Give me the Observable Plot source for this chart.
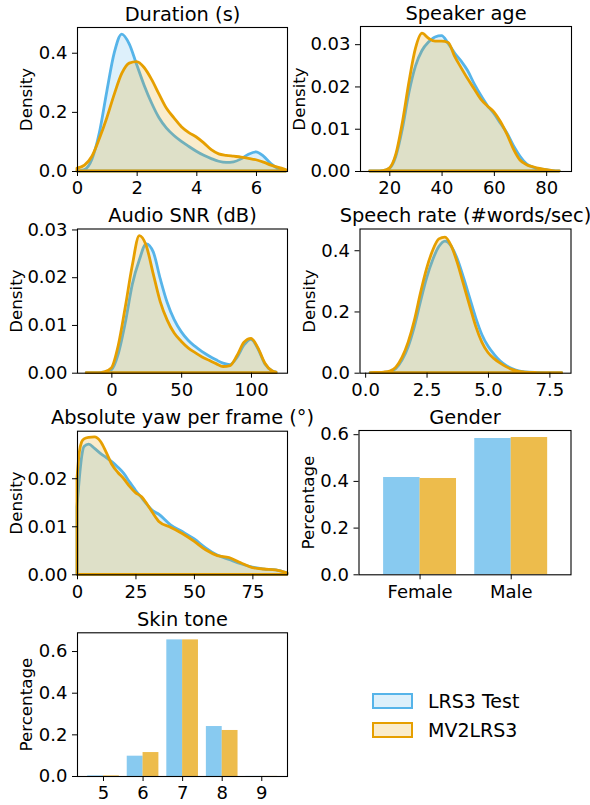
<!DOCTYPE html>
<html><head><meta charset="utf-8">
<script src="https://cdn.jsdelivr.net/npm/d3@7"></script>
<script src="https://cdn.jsdelivr.net/npm/@observablehq/plot@0.6"></script>
<style>
body{margin:0;background:#fff;overflow:hidden;}
#fig{position:relative;width:590px;height:805px;font-family:"DejaVu Sans",sans-serif;}
#fig svg{position:absolute;left:0;top:0;}
.leg{position:absolute;display:flex;align-items:center;font-size:19px;color:#000;}
.sw{box-sizing:border-box;width:41px;height:16px;margin-right:15px;}
</style>
</head><body><div id="fig"></div>
<script>
// ---- data ----
const seriesNames = ["LRS3 Test", "MV2LRS3"];

const durationX = [0,0.25,0.5,0.75,1.0,1.25,1.5,1.75,2.0,2.25,2.5,2.75,3.0,3.25,3.5,3.75,4.0,4.25,4.5,4.75,5.0,5.25,5.5,5.75,6.0,6.25,6.5,6.75,7.0];
const durationLRS3 = [0.0,0.005,0.04,0.13,0.27,0.40,0.463,0.43,0.36,0.29,0.23,0.18,0.145,0.12,0.10,0.083,0.067,0.053,0.042,0.033,0.029,0.031,0.041,0.057,0.065,0.05,0.025,0.008,0.002];
const durationMV2 = [0.01,0.02,0.05,0.11,0.18,0.26,0.33,0.365,0.37,0.35,0.31,0.26,0.212,0.18,0.15,0.13,0.115,0.095,0.072,0.058,0.053,0.05,0.047,0.043,0.038,0.03,0.02,0.012,0.005];

const ageX = [12.5,15,17.5,20,22.5,25,27.5,30,32.5,35,37.5,40,42.5,45,47.5,50,52.5,55,57.5,60,62.5,65,67.5,70,72.5,75,77.5,80,82.5,85];
const ageLRS3 = [0,0,0.0001,0.0006,0.0035,0.010,0.0185,0.0248,0.0285,0.0305,0.0317,0.032,0.0302,0.0279,0.026,0.0237,0.0206,0.0179,0.0155,0.0136,0.0113,0.009,0.006,0.0035,0.0017,0.0009,0.0005,0.0003,0.0001,0];
const ageMV2 = [0,0,0.0001,0.0007,0.004,0.0115,0.021,0.029,0.0326,0.0314,0.0307,0.0307,0.0304,0.0271,0.0244,0.0218,0.0194,0.017,0.0154,0.014,0.0117,0.0087,0.0052,0.0026,0.0015,0.001,0.0006,0.0003,0.0001,0];

const snrX = [-18,-10,-5,0,5,10,15,20,25,30,35,40,45,50,55,60,65,70,75,80,85,90,95,100,105,110,115,118];
const snrLRS3 = [0,0,0.0001,0.0006,0.004,0.0105,0.0185,0.0236,0.027,0.0253,0.0197,0.0147,0.0111,0.0086,0.0068,0.0055,0.0044,0.0035,0.0027,0.002,0.0017,0.0032,0.0058,0.007,0.005,0.0018,0.0004,0.0001];
const snrMV2 = [0,0,0.0002,0.001,0.0058,0.0138,0.0225,0.0287,0.0266,0.0207,0.0149,0.011,0.0083,0.0066,0.0052,0.0042,0.0033,0.0026,0.0019,0.0013,0.0015,0.0036,0.0064,0.0072,0.0052,0.002,0.0004,0.0001];

const rateX = [0.2,0.5,0.75,1.0,1.25,1.5,1.75,2.0,2.25,2.5,2.75,3.0,3.25,3.5,3.75,4.0,4.25,4.5,4.75,5.0,5.25,5.5,5.75,6.0,6.25,6.5,7.0,7.5,8.0];
const rateLRS3 = [0,0.0005,0.001,0.003,0.014,0.041,0.085,0.15,0.232,0.309,0.369,0.412,0.43,0.414,0.372,0.312,0.246,0.18,0.125,0.087,0.06,0.038,0.023,0.013,0.006,0.003,0.001,0.0003,0];
const rateMV2 = [0,0.001,0.002,0.005,0.018,0.05,0.1,0.17,0.26,0.34,0.40,0.437,0.443,0.415,0.36,0.29,0.22,0.152,0.10,0.066,0.046,0.031,0.019,0.01,0.004,0.002,0.0005,0,0];

const yawX = [0,1,2,3,5,7.5,10,12.5,15,17.5,20,22.5,25,27.5,30,32.5,35,40,45,50,55,60,65,70,75,80,85,89.8];
const yawLRS3 = [0.014,0.02,0.0245,0.0266,0.0271,0.0262,0.0252,0.0243,0.0234,0.0223,0.021,0.0192,0.0175,0.016,0.0145,0.0132,0.0125,0.0103,0.0089,0.0074,0.0055,0.004,0.0031,0.0022,0.0015,0.0011,0.0009,0.0003];
const yawMV2 = [0.02,0.0255,0.0276,0.0282,0.0285,0.0286,0.0277,0.0254,0.0228,0.0212,0.0199,0.0183,0.017,0.0162,0.0146,0.0127,0.011,0.0098,0.0085,0.0069,0.0051,0.0039,0.0035,0.0024,0.0014,0.0011,0.0009,0.0003];

const genderCats = ["Female", "Male"];
const genderLRS3 = [0.4167, 0.5837];
const genderMV2 = [0.4124, 0.588];

const skinCats = [5, 6, 7, 8, 9];
const skinLRS3 = [0.003, 0.0975, 0.656, 0.24, 0.0005];
const skinMV2 = [0.003, 0.115, 0.656, 0.221, 0.0005];

// ---- styling ----
const BLUE = "#56B4E9", ORANGE = "#E69F00";
const W = 590, H = 805;
const fig = document.getElementById("fig");
const baseStyle = {fontFamily: "DejaVu Sans", fontSize: "18px", color: "#000", background: "none", overflow: "visible"};

function common(box, title, ylabel, labelOff, xOpts, yOpts) {
  return {
    width: W, height: H,
    marginLeft: box.l, marginRight: W - box.r, marginTop: box.t, marginBottom: H - box.b,
    style: baseStyle,
    x: xOpts, y: yOpts,
    extra: [
      Plot.frame({stroke: "#000", strokeWidth: 1.1}),
      Plot.axisX({ticks: xOpts.ticks, tickFormat: xOpts.tickFormat, tickSize: 5, tickPadding: 5, label: null, fontSize: 18}),
      Plot.axisY({ticks: yOpts.ticks, tickFormat: yOpts.tickFormat, tickSize: 5, tickPadding: 5, label: null, fontSize: 18}),
      Plot.text([title], {frameAnchor: "top", lineAnchor: "bottom", dy: -7, fontSize: 19.4, fill: "#000"}),
      Plot.text([ylabel], {frameAnchor: "left", rotate: -90, dx: -labelOff, fontSize: 16.7, fill: "#000", textAnchor: "middle", lineAnchor: "middle"})
    ]
  };
}

function kdePanel(box, title, labelOff, xs, a, b, xOpts, yOpts) {
  const rows = xs.map((x, i) => ({x, a: a[i], b: b[i]}));
  const c = common(box, title, "Density", labelOff, xOpts, yOpts);
  const marks = [
    Plot.areaY(rows, {x: "x", y: "a", curve: "monotone-x", fill: BLUE, fillOpacity: 0.2, stroke: BLUE, strokeWidth: 2.8, strokeLinejoin: "round"}),
    Plot.areaY(rows, {x: "x", y: "b", curve: "monotone-x", fill: ORANGE, fillOpacity: 0.2, stroke: ORANGE, strokeWidth: 2.8, strokeLinejoin: "round"}),
    ...c.extra
  ];
  delete c.extra;
  fig.appendChild(Plot.plot({...c, marks}));
}

function barPanel(box, title, labelOff, pos, a, b, xOpts, yOpts) {
  const rows = pos.map((p, i) => ({p, a: a[i], b: b[i]}));
  const c = common(box, title, "Percentage", labelOff, xOpts, yOpts);
  const bw = 0.4;
  const marks = [
    Plot.rectY(rows, {x1: d => d.p - bw, x2: d => d.p, y: "a", fill: BLUE, fillOpacity: 0.7}),
    Plot.rectY(rows, {x1: d => d.p, x2: d => d.p + bw, y: "b", fill: ORANGE, fillOpacity: 0.7}),
    ...c.extra
  ];
  delete c.extra;
  fig.appendChild(Plot.plot({...c, marks}));
}

const f1 = d3.format(".1f"), f2 = d3.format(".2f");

kdePanel({l: 77, r: 287, t: 27, b: 171}, "Duration (s)", 51, durationX, durationLRS3, durationMV2,
  {domain: [0, 7.04], ticks: [0, 2, 4, 6], tickFormat: d => d},
  {domain: [0, 0.487], ticks: [0, 0.2, 0.4], tickFormat: f1});

kdePanel({l: 360, r: 571, t: 26, b: 171}, "Speaker age", 61, ageX, ageLRS3, ageMV2,
  {domain: [8.8, 89.5], ticks: [20, 40, 60, 80], tickFormat: d => d},
  {domain: [0, 0.0343], ticks: [0, 0.01, 0.02, 0.03], tickFormat: f2});

kdePanel({l: 77, r: 287, t: 228.5, b: 372.7}, "Audio SNR (dB)", 61, snrX, snrLRS3, snrMV2,
  {domain: [-24.6, 125.8], ticks: [0, 50, 100], tickFormat: d => d},
  {domain: [0, 0.0302], ticks: [0, 0.01, 0.02, 0.03], tickFormat: f2});

kdePanel({l: 359.5, r: 570.5, t: 228.5, b: 372.7}, "Speech rate (#words/sec)", 50, rateX, rateLRS3, rateMV2,
  {domain: [-0.23, 8.36], ticks: [0, 2.5, 5, 7.5], tickFormat: f1},
  {domain: [0, 0.471], ticks: [0, 0.2, 0.4], tickFormat: f1});

kdePanel({l: 77, r: 287, t: 430.7, b: 574.3}, "Absolute yaw per frame (°)", 61, yawX, yawLRS3, yawMV2,
  {domain: [0, 89.8], ticks: [0, 25, 50, 75], tickFormat: d => d},
  {domain: [0, 0.0299], ticks: [0, 0.01, 0.02], tickFormat: f2});

barPanel({l: 358.5, r: 570.5, t: 430, b: 574.3}, "Gender", 50, genderCats.map((_, i) => i), genderLRS3, genderMV2,
  {domain: [-0.67, 1.656], ticks: [0, 1], tickFormat: i => genderCats[i]},
  {domain: [0, 0.618], ticks: [0, 0.2, 0.4, 0.6], tickFormat: f1});

barPanel({l: 77, r: 287, t: 632.3, b: 776}, "Skin tone", 51, skinCats, skinLRS3, skinMV2,
  {domain: [4.343, 9.65], ticks: skinCats, tickFormat: d => d},
  {domain: [0, 0.69], ticks: [0, 0.2, 0.4, 0.6], tickFormat: f1});

// ---- legend ----
const legendColors = [BLUE, ORANGE];
seriesNames.forEach((name, i) => {
  const row = document.createElement("div");
  row.className = "leg";
  row.style.left = "372px";
  row.style.top = (693 + i * 28.5) + "px";
  row.style.height = "16px";
  const sw = document.createElement("div");
  sw.className = "sw";
  sw.style.border = "2.8px solid " + legendColors[i];
  const c = d3.color(legendColors[i]); c.opacity = 0.2;
  sw.style.background = c.formatRgb();
  row.appendChild(sw);
  const t = document.createElement("span");
  t.textContent = name;
  row.appendChild(t);
  fig.appendChild(row);
});
</script>
</body></html>
